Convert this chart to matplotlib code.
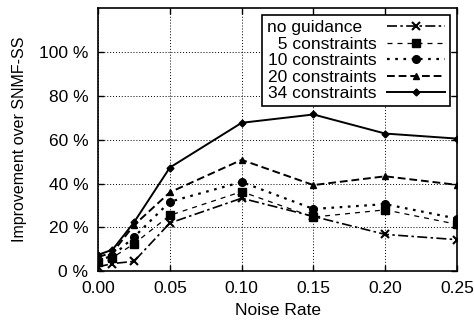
import matplotlib as mpl
mpl.use('Agg')
import matplotlib.pyplot as plt

plt.rcParams['font.family'] = ['Liberation Sans', 'DejaVu Sans']
plt.rcParams['font.size'] = 12.5

noise = [0.0, 0.01, 0.025, 0.05, 0.10, 0.15, 0.20, 0.25]
no_guidance = [2, 3.5, 4.5, 22, 33.3, 25, 16.8, 14.4]
c5 = [4, 6.2, 12.5, 25.5, 36.3, 24.7, 28, 21.4]
c10 = [5, 7, 15.6, 31.7, 40.7, 28.4, 30.6, 24]
c20 = [6.5, 8.5, 21, 36, 50.8, 39.3, 43.3, 39.4]
c34 = [7.5, 9.8, 22.3, 47.3, 67.7, 71.5, 62.8, 60.5]

# padded so the labels look left aligned like in gnuplot
labels = ['no guidance   ', '  5 constraints', '10 constraints', '20 constraints', '34 constraints']

fig, ax = plt.subplots(figsize=(4.74, 3.26), dpi=100)
fig.subplots_adjust(left=0.207, right=0.964, top=0.975, bottom=0.168)

ax.plot(noise, no_guidance, color='black', lw=1.2, dashes=[6, 2, 1.5, 2],
        marker='x', ms=6, mew=1.5, label=labels[0])
ax.plot(noise, c5, color='black', lw=0.9, dashes=[4, 4],
        marker='s', ms=5.5, label=labels[1])
ax.plot(noise, c10, color='black', lw=1.6, dashes=[1.2, 2.5],
        marker='o', ms=5.5, label=labels[2])
ax.plot(noise, c20, color='black', lw=1.4, dashes=[4, 2],
        marker='^', ms=5, label=labels[3])
ax.plot(noise, c34, color='black', lw=1.4, linestyle='-',
        marker='D', ms=3.5, label=labels[4])

ax.set_xlim(0, 0.25)
ax.set_ylim(0, 120)
ax.set_xticks([0.0, 0.05, 0.10, 0.15, 0.20, 0.25])
ax.set_xticklabels(['0.00', '0.05', '0.10', '0.15', '0.20', '0.25'])
ax.set_yticks([0, 20, 40, 60, 80, 100])
ax.set_yticklabels(['0 %', '20 %', '40 %', '60 %', '80 %', '100 %'])
ax.tick_params(direction='in', length=4, width=1, pad=7, top=True, right=True)
ax.grid(True, color='black', linestyle=(0, (1, 2)), linewidth=0.7)
for s in ax.spines.values():
    s.set_linewidth(1.2)

ax.set_xlabel('Noise Rate', labelpad=5)
ax.set_ylabel('Improvement over SNMF-SS', fontsize=11.5, labelpad=9)

leg = ax.legend(loc='upper right', bbox_to_anchor=(0.98, 0.975), markerfirst=False,
                fancybox=False, edgecolor='black', framealpha=1,
                handlelength=3.3, labelspacing=0.08, borderpad=0.3,
                handletextpad=0.6, borderaxespad=0.0)
leg.get_frame().set_linewidth(1.2)

plt.savefig('out.png', dpi=100)
